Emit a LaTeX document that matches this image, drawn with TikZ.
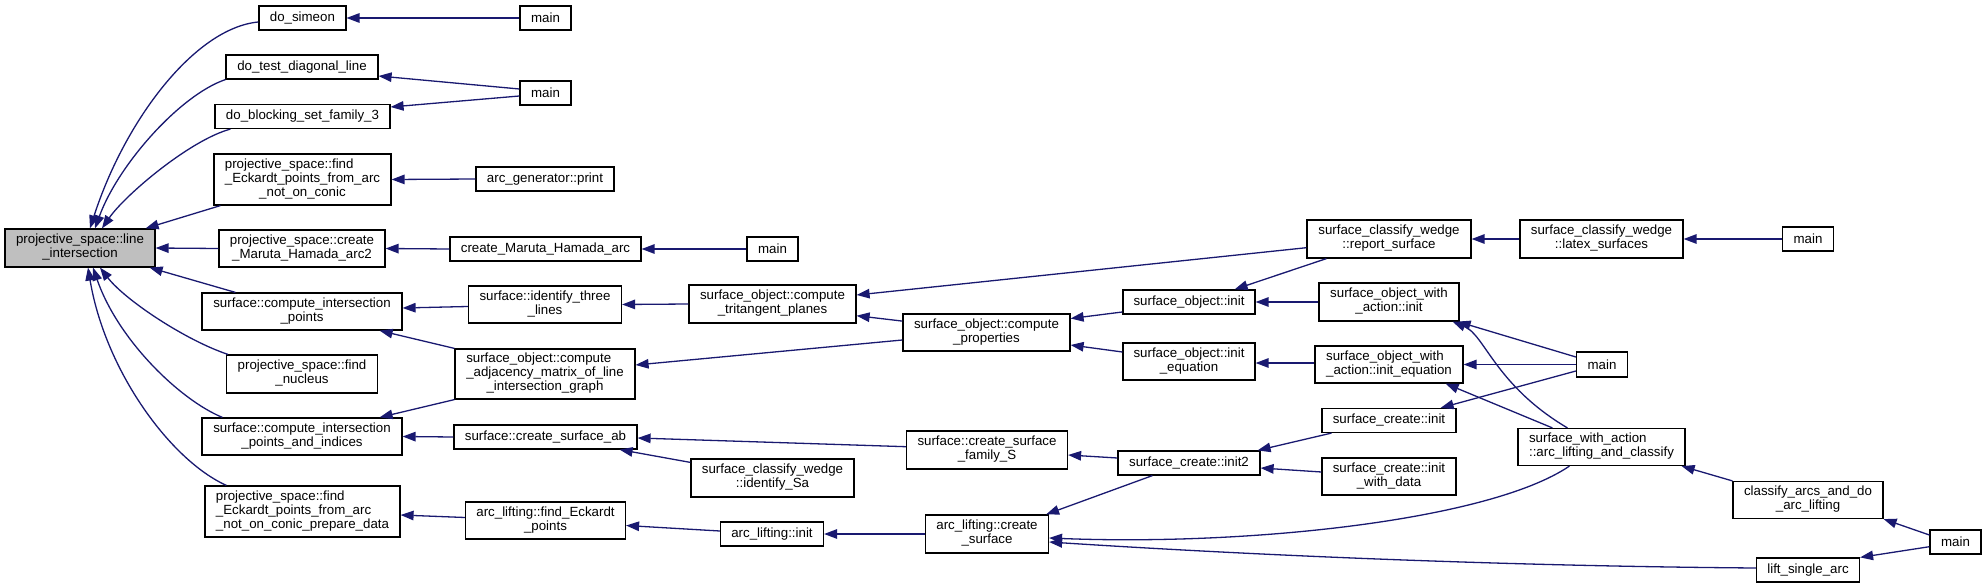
\documentclass[tikz,border=0pt]{standalone}
\usepackage{fontspec}
\setmainfont{Liberation Sans}
\usetikzlibrary{arrows.meta}
\definecolor{mblue}{HTML}{191970}
\definecolor{rootgray}{HTML}{BFBFBF}
\newcommand{\dxfont}{\fontsize{13.3}{14}\selectfont}
\newcommand{\mlab}[2]{\begin{tabular}{@{}l@{}}#1\\\multicolumn{1}{@{}c@{}}{#2}\end{tabular}}
\begin{document}
\begin{tikzpicture}[x=1pt,y=-1pt,
  box/.style={draw=black, line width=1.2pt, fill=white, inner sep=0pt, font=\dxfont, text=black},
  sz/.style 2 args={minimum width=#1pt, minimum height=#2pt},
  e/.style={draw=mblue, line width=1.3pt, arrows={Triangle[length=13pt,width=9.5pt]-}, mblue}]
\useasboundingbox (0,0) rectangle (1986,588);
% nodes
\node[box, fill=rootgray, sz={150}{38}] (li) at (80,248) {\mlab{projective\_space::line}{\_intersection}};
\node[box, sz={87}{24}] (ds) at (302.4,18) {do\_simeon};
\node[box, sz={51}{24}] (m1) at (545.5,18) {main};
\node[box, sz={152}{24}] (dt) at (302,67) {do\_test\_diagonal\_line};
\node[box, sz={51}{24}] (m2) at (545.5,93) {main};
\node[box, sz={175}{24}] (db) at (302.5,116.5) {do\_blocking\_set\_family\_3};
\node[box, sz={177}{51}] (pe) at (302.5,179.5) {\mlab{projective\_space::find\\\_Eckardt\_points\_from\_arc}{\_not\_on\_conic}};
\node[box, sz={138}{24}] (ag) at (545,179) {arc\_generator::print};
\node[box, sz={166}{37}] (cm2) at (302,248.5) {\mlab{projective\_space::create}{\_Maruta\_Hamada\_arc2}};
\node[box, sz={191}{24}] (cm) at (545.5,249) {create\_Maruta\_Hamada\_arc};
\node[box, sz={51}{24}] (m3) at (772.5,249) {main};
\node[box, sz={200}{37}] (cip) at (302,311.5) {\mlab{surface::compute\_intersection}{\_points}};
\node[box, sz={153}{37}] (itl) at (545,304.5) {\mlab{surface::identify\_three}{\_lines}};
\node[box, sz={151}{38}] (fn) at (302,374) {\mlab{projective\_space::find}{\_nucleus}};
\node[box, sz={180}{50}] (cam) at (545,374) {\mlab{surface\_object::compute\\\_adjacency\_matrix\_of\_line}{\_intersection\_graph}};
\node[box, sz={200}{37}] (cipi) at (302,436.5) {\mlab{surface::compute\_intersection}{\_points\_and\_indices}};
\node[box, sz={183}{24}] (csab) at (545.5,437) {surface::create\_surface\_ab};
\node[box, sz={195}{51}] (ped) at (302.5,511.5) {\mlab{projective\_space::find\\\_Eckardt\_points\_from\_arc}{\_not\_on\_conic\_prepare\_data}};
\node[box, sz={160}{37}] (afe) at (545.5,520.5) {\mlab{arc\_lifting::find\_Eckardt}{\_points}};
\node[box, sz={167}{38}] (ctp) at (772.5,304) {\mlab{surface\_object::compute}{\_tritangent\_planes}};
\node[box, sz={161}{38}] (csf) at (987,450) {\mlab{surface::create\_surface}{\_family\_S}};
\node[box, sz={163}{38}] (isa) at (772.5,478) {\mlab{surface\_classify\_wedge}{::identify\_Sa}};
\node[box, sz={103}{24}] (ali) at (772,534) {arc\_lifting::init};
\node[box, sz={167}{37}] (cp) at (986.5,332.5) {\mlab{surface\_object::compute}{\_properties}};
\node[box, sz={123}{38}] (acs) at (987,534) {\mlab{arc\_lifting::create}{\_surface}};
\node[box, sz={132}{24}] (soi) at (1189,302) {surface\_object::init};
\node[box, sz={132}{37}] (soie) at (1189,361.5) {\mlab{surface\_object::init}{\_equation}};
\node[box, sz={142}{24}] (sci2) at (1189,463) {surface\_create::init2};
\node[box, sz={164}{38}] (rs) at (1389,239) {\mlab{surface\_classify\_wedge}{::report\_surface}};
\node[box, sz={163}{38}] (ls) at (1601.5,239) {\mlab{surface\_classify\_wedge}{::latex\_surfaces}};
\node[box, sz={51}{24}] (m4) at (1808,239) {main};
\node[box, sz={140}{38}] (swi) at (1389,302) {\mlab{surface\_object\_with}{\_action::init}};
\node[box, sz={148}{37}] (swie) at (1389,364.5) {\mlab{surface\_object\_with}{\_action::init\_equation}};
\node[box, sz={51}{25}] (m5) at (1602,364.5) {main};
\node[box, sz={134}{24}] (sci) at (1389,420.5) {surface\_create::init};
\node[box, sz={134}{37}] (sciw) at (1389,476.5) {\mlab{surface\_create::init}{\_with\_data}};
\node[box, sz={167}{37}] (alc) at (1601.5,447) {\mlab{surface\_with\_action}{::arc\_lifting\_and\_classify}};
\node[box, sz={150}{37}] (ca) at (1808,500) {\mlab{classify\_arcs\_and\_do}{\_arc\_lifting}};
\node[box, sz={51}{24}] (m6) at (1955.5,542) {main};
\node[box, sz={103}{24}] (lsa) at (1808,570) {lift\_single\_arc};
% edges: fan into line_intersection
\draw[e] ([xshift=10pt]li.north) .. controls (125,120) and (195,28) .. ([yshift=-4pt]ds.west);
\draw[e] ([xshift=15pt]li.north) .. controls (118,165) and (180,95) .. (dt.south west);
\draw[e] ([xshift=22pt]li.north) .. controls (125,195) and (190,140) .. ([xshift=16pt]db.south west);
\draw[e] ([xshift=-10pt]li.north east) -- ([xshift=7pt]pe.south west);
\draw[e] (li.east) -- (cm2.west);
\draw[e] ([xshift=-6pt]li.south east) -- ([xshift=34pt]cip.north west);
\draw[e] ([xshift=20pt]li.south) .. controls (125,300) and (185,340) .. ([xshift=2pt]fn.north west);
\draw[e] ([xshift=13pt]li.south) .. controls (118,340) and (180,400) .. ([xshift=21pt]cipi.north west);
\draw[e] ([xshift=8pt]li.south) .. controls (105,370) and (170,460) .. ([xshift=22pt]ped.north west);
% second column
\draw[e] (ds.east) -- (m1.west);
\draw[e] ([yshift=-9pt]dt.east) -- ([yshift=4pt]m2.west);
\draw[e] ([yshift=9.5pt]db.east) -- ([yshift=-3pt]m2.west);
\draw[e] (pe.east) -- (ag.west);
\draw[e] (cm2.east) -- (cm.west);
\draw[e] (cm.east) -- (m3.west);
\draw[e] ([yshift=3.5pt]cip.east) -- ([yshift=-2pt]itl.west);
\draw[e] ([xshift=-23pt]cip.south east) -- (cam.north west);
\draw[e] ([xshift=-23pt]cipi.north east) -- (cam.south west);
\draw[e] (cipi.east) -- (csab.west);
\draw[e] ([yshift=-3.5pt]ped.east) -- ([yshift=3pt]afe.west);
% third column
\draw[e] (itl.east) -- (ctp.west);
\draw[e] ([yshift=9pt]cam.east) -- ([yshift=-7.5pt]cp.west);
\draw[e] ([yshift=-1pt]csab.east) -- ([yshift=3.3pt]csf.west);
\draw[e] ([xshift=-18pt]csab.south east) -- ([yshift=-4pt]isa.north west);
\draw[e] ([yshift=-5pt]afe.east) -- ([yshift=3pt]ali.west);
\draw[e] ([yshift=9pt]ctp.east) -- ([yshift=-8.7pt]rs.west);
\draw[e] ([yshift=-11.7pt]ctp.east) -- ([yshift=-7.7pt]cp.north west);
\draw[e] (ali.east) -- (acs.west);
% fourth column
\draw[e] ([yshift=14pt]cp.east) -- ([yshift=-10pt]soi.west);
\draw[e] ([yshift=-12.5pt]cp.east) -- ([yshift=9.5pt]soie.west);
\draw[e] ([xshift=-21pt]soi.north east) -- ([xshift=20pt]rs.south west);
\draw[e] (soi.east) -- (swi.west);
\draw[e] ([yshift=-1.5pt]soie.east) -- ([yshift=1.5pt]swie.west);
\draw[e] (rs.east) -- (ls.west);
\draw[e] (ls.east) -- (m4.west);
\draw[e] ([xshift=-2pt]swi.south east) -- ([yshift=7.5pt]m5.west);
\draw[e] ([xshift=-7pt]swi.south east) .. controls (1485,335) and (1495,385) .. ([xshift=50pt]alc.north west);
\draw[e] (swie.east) -- (m5.west);
\draw[e] ([xshift=-18pt]swie.south east) -- ([xshift=35pt]alc.north west);
\draw[e] ([xshift=-16pt]sci.north east) -- ([yshift=-6.5pt]m5.west);
\draw[e] ([xshift=-3pt]sci2.north east) -- ([xshift=10pt]sci.south west);
\draw[e] ([yshift=-5pt]sci2.east) -- ([yshift=4.5pt]sciw.west);
\draw[e] ([yshift=-5pt]csf.east) -- ([yshift=5pt]sci2.west);
\draw[e] ([xshift=-3pt]acs.north east) -- ([xshift=35pt]sci2.south west);
\draw[e] ([yshift=-4pt]acs.east) .. controls (1250,546) and (1490,520) .. ([xshift=52pt]alc.south west);
\draw[e] ([yshift=-8pt]acs.east) .. controls (1250,555) and (1500,566) .. ([yshift=2pt]lsa.west);
\draw[e] ([xshift=-4pt]alc.south east) -- (ca.north west);
\draw[e] (ca.south east) -- ([yshift=7pt]m6.west);
\draw[e] (lsa.north east) -- ([yshift=-4.7pt]m6.west);
\end{tikzpicture}
\end{document}
